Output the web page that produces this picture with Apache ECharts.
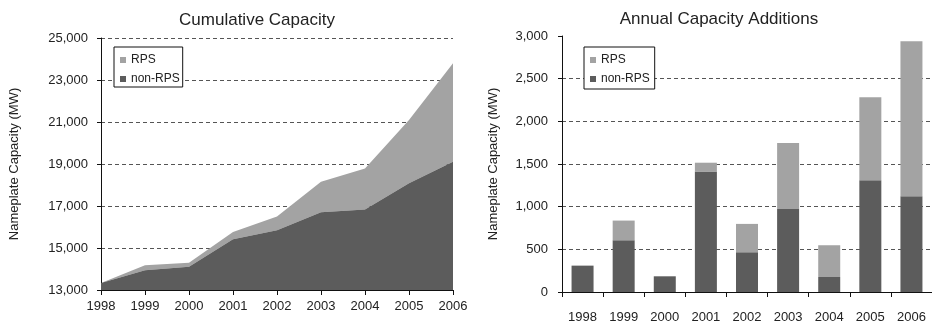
<!DOCTYPE html>
<html>
<head>
<meta charset="utf-8">
<script src="https://cdn.jsdelivr.net/npm/echarts@6/dist/echarts.min.js"></script>
<style>
  html, body { margin: 0; padding: 0; background: #fff; }
  #chart { width: 932px; height: 326px; }
</style>
</head>
<body>
<div id="chart"></div>
<script>
// Wind capacity, 1998-2006 (MW)
const years = ['1998', '1999', '2000', '2001', '2002', '2003', '2004', '2005', '2006'];

// Cumulative nameplate capacity (stacked)
const cumNonRps = [13330, 13940, 14110, 15420, 15840, 16700, 16830, 18080, 19110];
const cumRps    = [0, 240, 190, 340, 660, 1460, 1950, 3020, 4690];

// Annual capacity additions (stacked)
const addNonRps = [309, 607, 184, 1412, 466, 974, 176, 1311, 1123];
const addRps    = [0, 230, 0, 103, 332, 771, 372, 970, 1815];

const cumTicks = { min: 13000, max: 25000, interval: 2000 };
const addTicks = { min: 0, max: 3000, interval: 500 };

const FONT = 'Liberation Sans, Arial, sans-serif';
const TXT = '#222';
const DARK = '#5c5c5c';
const LIGHT = '#a3a3a3';

const fmt = v => Number(v).toLocaleString('en-US');

const gridLine = { show: true, lineStyle: { color: '#555', type: [4, 3], width: 1 } };
const axisBlack = { show: true, lineStyle: { color: '#111', width: 1 } };

const chart = echarts.init(document.getElementById('chart'), null, { renderer: 'canvas' });

chart.setOption({
  animation: false,
  backgroundColor: '#fff',
  textStyle: { fontFamily: FONT, color: TXT },
  title: [
    { text: 'Cumulative Capacity', left: 257, top: 12, textAlign: 'center', padding: 0,
      textStyle: { fontFamily: FONT, fontSize: 17, fontWeight: 'normal', color: TXT } },
    { text: 'Annual Capacity Additions', left: 719, top: 11, textAlign: 'center', padding: 0,
      textStyle: { fontFamily: FONT, fontSize: 17, fontWeight: 'normal', color: TXT } }
  ],
  legend: [
    { orient: 'vertical', left: 114, top: 47, data: ['RPS', 'non-RPS'],
      itemWidth: 6, itemHeight: 6, itemGap: 7, padding: [7, 3, 2, 6],
      backgroundColor: '#fff', borderColor: '#111', borderWidth: 1, borderRadius: 0,
      textStyle: { fontFamily: FONT, fontSize: 12, color: TXT }, selectedMode: false,
      icon: 'rect' },
    { orient: 'vertical', left: 584, top: 47, data: ['RPS', 'non-RPS'],
      itemWidth: 6, itemHeight: 6, itemGap: 7, padding: [7, 5, 4, 6],
      backgroundColor: '#fff', borderColor: '#111', borderWidth: 1, borderRadius: 0,
      textStyle: { fontFamily: FONT, fontSize: 12, color: TXT }, selectedMode: false,
      icon: 'rect' }
  ],
  grid: [
    { left: 101, right: 479, top: 38, bottom: 36 },
    { left: 562, right: -8, top: 36, bottom: 34 }
  ],
  xAxis: [
    { type: 'category', gridIndex: 0, data: years, boundaryGap: false,
      axisLine: axisBlack, axisTick: { show: true, length: 5, lineStyle: { color: '#111' } },
      axisLabel: { fontFamily: FONT, fontSize: 13, color: TXT, margin: 10, interval: 0 },
      splitLine: { show: false } },
    { type: 'category', gridIndex: 1, data: years, boundaryGap: true,
      axisLine: axisBlack, axisTick: { show: true, length: 5, lineStyle: { color: '#111' } },
      axisLabel: { fontFamily: FONT, fontSize: 13, color: TXT, margin: 19, interval: 0 },
      splitLine: { show: false } }
  ],
  yAxis: [
    { type: 'value', gridIndex: 0, min: cumTicks.min, max: cumTicks.max, interval: cumTicks.interval,
      name: 'Nameplate Capacity (MW)', nameLocation: 'middle', nameGap: 80,
      nameTextStyle: { fontFamily: FONT, fontSize: 13, color: TXT },
      axisLine: axisBlack, axisTick: { show: true, length: 4, lineStyle: { color: '#111' } },
      axisLabel: { fontFamily: FONT, fontSize: 13, color: TXT, margin: 13, formatter: fmt },
      splitLine: gridLine },
    { type: 'value', gridIndex: 1, min: addTicks.min, max: addTicks.max, interval: addTicks.interval,
      name: 'Nameplate Capacity (MW)', nameLocation: 'middle', nameGap: 62,
      nameTextStyle: { fontFamily: FONT, fontSize: 13, color: TXT },
      axisLine: axisBlack, axisTick: { show: true, length: 4, lineStyle: { color: '#111' } },
      axisLabel: { fontFamily: FONT, fontSize: 13, color: TXT, margin: 14, formatter: fmt },
      splitLine: Object.assign({ showMaxLine: false }, gridLine) }
  ],
  series: [
    { name: 'non-RPS', type: 'line', xAxisIndex: 0, yAxisIndex: 0, stack: 'cum',
      data: cumNonRps, symbol: 'none', color: DARK,
      lineStyle: { width: 0 }, areaStyle: { color: DARK, opacity: 1 }, z: 3 },
    { name: 'RPS', type: 'line', xAxisIndex: 0, yAxisIndex: 0, stack: 'cum',
      data: cumRps, symbol: 'none', color: LIGHT,
      lineStyle: { width: 0 }, areaStyle: { color: LIGHT, opacity: 1 }, z: 2 },
    { name: 'non-RPS', type: 'bar', xAxisIndex: 1, yAxisIndex: 1, stack: 'add',
      data: addNonRps, barWidth: 22, itemStyle: { color: DARK } },
    { name: 'RPS', type: 'bar', xAxisIndex: 1, yAxisIndex: 1, stack: 'add',
      data: addRps, barWidth: 22, itemStyle: { color: LIGHT } }
  ]
});
</script>
</body>
</html>
